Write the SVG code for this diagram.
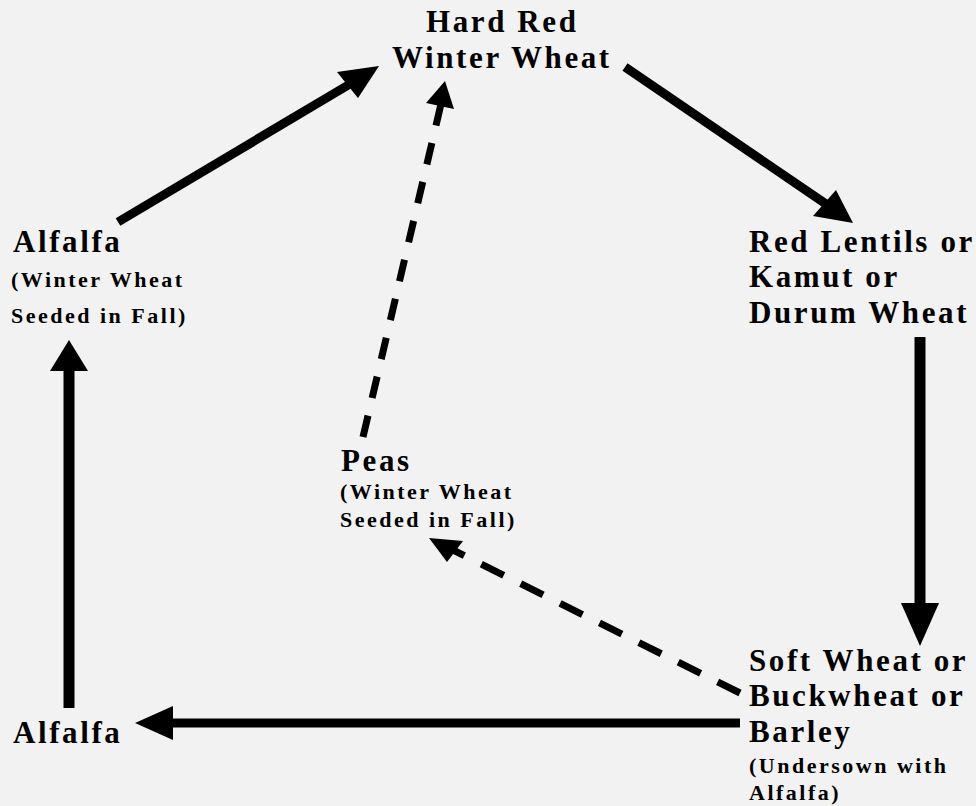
<svg xmlns="http://www.w3.org/2000/svg" width="976" height="806" viewBox="0 0 976 806">
<style>
text{font-family:"Liberation Serif","Times New Roman",serif;font-weight:bold;fill:#000}
.big{font-size:31px;letter-spacing:2.6px}
.small{font-size:22px;letter-spacing:2.5px}
.solid{stroke:#000;fill:none}
.dash{stroke:#000;fill:none;stroke-width:7}
.head{fill:#000;stroke:none}
</style>
<rect x="0" y="0" width="976" height="806" fill="#f2f2f2"/>
<g id="connectors">
  <line class="solid" x1="118" y1="222" x2="350" y2="84" stroke-width="9"/>
  <polygon class="head" points="379,66 337,72 358,98"/>
  <line class="solid" x1="625" y1="67" x2="826" y2="204" stroke-width="9"/>
  <polygon class="head" points="853,223 813,216 836,190"/>
  <line class="solid" x1="920" y1="337" x2="920" y2="605" stroke-width="11"/>
  <polygon class="head" points="901,603 939,603 920,646"/>
  <line class="solid" x1="740" y1="723" x2="170" y2="723" stroke-width="9"/>
  <polygon class="head" points="135,723 173,706 173,740"/>
  <line class="solid" x1="69" y1="708" x2="69" y2="369" stroke-width="11"/>
  <polygon class="head" points="69,340 50,371 88,371"/>
  <line class="dash" x1="363" y1="437" x2="441" y2="104" stroke-dasharray="22 18"/>
  <polygon class="head" points="445,81 426,103 454,109"/>
  <line class="dash" x1="740" y1="693" x2="453" y2="550" stroke-dasharray="25 19"/>
  <polygon class="head" points="429,538 463,541 447,562"/>
</g>
<g id="node-hard-red">
  <text class="big" x="426" y="32">Hard Red</text>
  <text class="big" x="392" y="68">Winter Wheat</text>
</g>
<g id="node-red-lentils">
  <text class="big" x="749" y="252">Red Lentils or</text>
  <text class="big" x="749" y="287">Kamut or</text>
  <text class="big" x="749" y="323">Durum Wheat</text>
</g>
<g id="node-soft-wheat">
  <text class="big" x="749" y="671">Soft Wheat or</text>
  <text class="big" x="749" y="706">Buckwheat or</text>
  <text class="big" x="749" y="742">Barley</text>
  <text class="small" x="749" y="773">(Undersown with</text>
  <text class="small" x="749" y="800">Alfalfa)</text>
</g>
<g id="node-alfalfa-bottom">
  <text class="big" x="13" y="743">Alfalfa</text>
</g>
<g id="node-alfalfa-top">
  <text class="big" x="13" y="252">Alfalfa</text>
  <text class="small" x="11" y="287">(Winter Wheat</text>
  <text class="small" x="11" y="323">Seeded in Fall)</text>
</g>
<g id="node-peas">
  <text class="big" x="341" y="471">Peas</text>
  <text class="small" x="340" y="499">(Winter Wheat</text>
  <text class="small" x="340" y="527">Seeded in Fall)</text>
</g>
</svg>
